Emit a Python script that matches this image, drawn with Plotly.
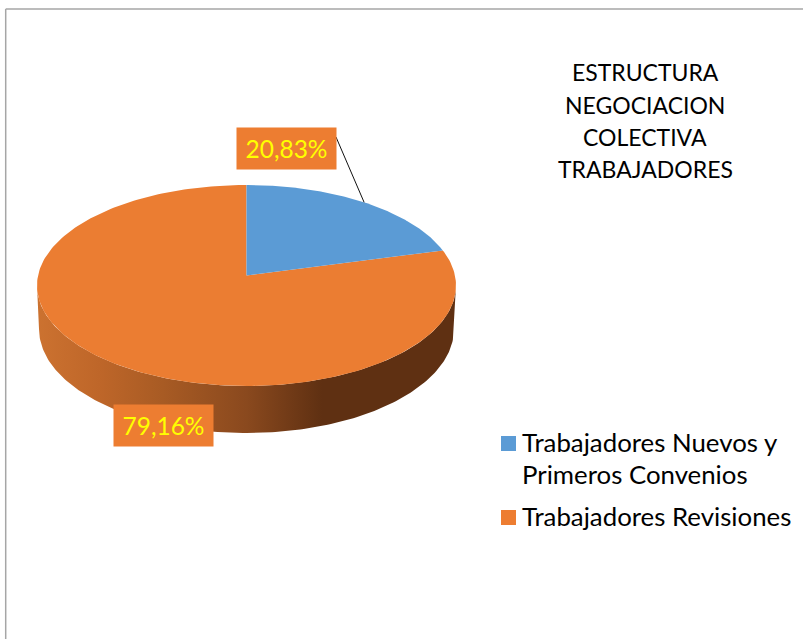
import numpy as np
import plotly.graph_objects as go

# Data
categories = ["Trabajadores Nuevos y<br>Primeros Convenios", "Trabajadores Revisiones"]
values = [20.83, 79.16]
colors = ["#5B9BD5", "#EB7D32"]
legend_colors = ["#5B9BD5", "#ED7D31"]
title_lines = ["ESTRUCTURA", "NEGOCIACION", "COLECTIVA", "TRABAJADORES"]

FONT = "Lato"
CX, CY, RX, RY = 246.5, 285.5, 209.5, 100.5
APEX_Y = 275.5
C = (CY - APEX_Y) / RY
BCY, BRX, BRY = 329.0, 207.5, 104.0


def rim(frac):
    """Screen point of the rim at a clockwise fraction from 12 o'clock (perspective disc)."""
    a = 2 * np.pi * np.asarray(frac, dtype=float)
    x, y = np.sin(a), np.cos(a)
    d = 1 + C * y
    return CX + RX * x * np.sqrt(1 - C * C) / d, CY - RY * (y + C) / d


fracs = np.array(values) / sum(values)
edges = np.concatenate([[0], np.cumsum(fracs)])

fig = go.Figure()

# side wall
ang = np.linspace(0, np.pi, 181)
top_x, top_y = CX - RX * np.cos(ang), CY + RY * np.sin(ang)
bot_x, bot_y = CX + BRX * np.cos(ang), BCY + BRY * np.sin(ang)
fig.add_trace(go.Scatter(
    x=np.r_[top_x, bot_x], y=np.r_[top_y, bot_y], mode="lines", fill="toself",
    line=dict(width=0), showlegend=False, hoverinfo="skip",
    fillgradient=dict(type="horizontal", colorscale=[
        [0.00, "#CC7230"], [0.15, "#BE6629"], [0.30, "#A85B24"], [0.50, "#8A491E"],
        [0.68, "#5F3012"], [1.00, "#5F3012"]]),
))

# top face, one wedge per value
for i in [1, 0]:
    t = np.linspace(edges[i], edges[i + 1], 240)
    rx_, ry_ = rim(t)
    fig.add_trace(go.Scatter(
        x=np.r_[CX, rx_, CX], y=np.r_[APEX_Y, ry_, APEX_Y], mode="lines", fill="toself",
        fillcolor=colors[i], line=dict(width=0), showlegend=False, hoverinfo="skip",
    ))

# leader line to the mid-point of the first wedge's rim
lx, ly = rim(edges[0] + fracs[0] / 2)
fig.add_trace(go.Scatter(x=[336, float(lx)], y=[137, float(ly)], mode="lines",
                         line=dict(color="#111111", width=1), showlegend=False, hoverinfo="skip"))

# legend marks
leg_y = [443.5, 517.5]
fig.add_trace(go.Scatter(x=[508.5, 508.5], y=leg_y, mode="markers",
                         marker=dict(symbol="square", size=15, color=legend_colors, line=dict(width=0)),
                         showlegend=False, hoverinfo="skip"))

ann = []
# data labels
for v, (bx, by) in zip(values, [(286.5, 148.5), (163.5, 425.5)]):
    ann.append(dict(x=bx, y=by, text=f"{v:.2f}%".replace(".", ","), showarrow=False, width=99, height=41,
                    bgcolor="#ED7D31", borderpad=0, align="center", valign="middle",
                    font=dict(family=FONT, size=24.5, color="#FFFF00")))
# title
for line, y in zip(title_lines, [72, 105, 137, 169]):
    ann.append(dict(x=645, y=y, text=line, showarrow=False, xanchor="center",
                    font=dict(family=FONT, size=23, color="#000000")))
# legend text
leg_lines = categories[0].split("<br>") + [categories[1]]
for line, y in zip(leg_lines, [442, 474, 516]):
    ann.append(dict(x=520, y=y, text=line, showarrow=False, xanchor="left",
                    font=dict(family=FONT, size=25.8, color="#000000")))

fig.update_layout(
    width=803, height=639, margin=dict(l=0, r=0, t=0, b=0),
    paper_bgcolor="white", plot_bgcolor="white", showlegend=False,
    xaxis=dict(range=[0, 803], visible=False, fixedrange=True),
    yaxis=dict(range=[639, 0], visible=False, fixedrange=True),
    annotations=ann,
    shapes=[
        dict(type="line", x0=5.7, x1=803, y0=9, y1=9, line=dict(color="#A6A6A6", width=1.5), layer="below"),
        dict(type="line", x0=5.7, x1=5.7, y0=9, y1=639, line=dict(color="#A6A6A6", width=1.5), layer="below"),
    ],
)
fig.write_html("out.html", config={"displayModeBar": False},
               post_script="document.body.style.margin='0';document.documentElement.style.overflow='hidden';")
